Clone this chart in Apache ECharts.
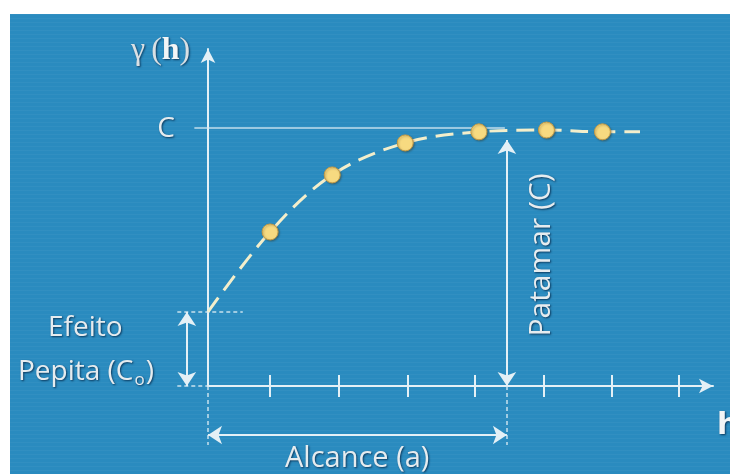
<!DOCTYPE html>
<html>
<head>
<meta charset="utf-8">
<script src="https://cdn.jsdelivr.net/npm/echarts@6/dist/echarts.min.js"></script>
<style>
html,body{margin:0;padding:0;background:#ffffff;}
#wrap{position:relative;width:730px;height:474px;overflow:hidden;background:#ffffff;}
#bg{position:absolute;left:10px;top:14px;width:720px;height:460px;background:#2a8bbf;
  background-image:repeating-linear-gradient(to bottom, rgba(255,255,255,0.035) 0px, rgba(255,255,255,0.035) 1px, rgba(0,0,0,0) 1px, rgba(0,0,0,0) 4px);}
#chart{position:absolute;left:0;top:0;width:730px;height:474px;}
</style>
</head>
<body>
<div id="wrap"><div id="bg"></div><div id="chart"></div></div>
<script>
// ---- data (x: lag h, y: semivariance gamma(h), sill C = 1) ----
const lagH      = [0.91, 1.82, 2.89, 3.97, 4.96, 5.78];
const gammaH    = [0.597, 0.818, 0.942, 0.985, 0.992, 0.985];
const curveH    = [0, 0.91, 1.82, 2.89, 3.97, 4.96, 5.78, 6.33];
const curveG    = [0.287, 0.597, 0.818, 0.942, 0.985, 0.992, 0.985, 0.985];
const nugget    = 0.287;   // C0
const sill      = 1.0;     // C
const rangeA    = 4.38;    // a
const xTicks    = [0.91, 1.92, 2.92, 3.91, 4.92, 5.92, 6.9];
const xMax      = 7.4;
const yMax      = 1.306;
// guide extents (in data units)
const leftGuide   = -0.45;
const cLineStart  = -0.2;
const pepitaX     = -0.31;
const nuggetGuideEnd = 0.51;
const belowAxis   = -0.229;
const alcanceY    = -0.19;
const patamarTop  = 0.953;

const txt = '#e6ecef';
const shadow = { textShadowColor: 'rgba(0,30,60,0.75)', textShadowBlur: 2, textShadowOffsetX: 1, textShadowOffsetY: 1 };
const guideColor = '#e4f0f6';
const arrowOff = [[0, '50%'], [0, '50%']];

const chart = echarts.init(document.getElementById('chart'), null, { renderer: 'canvas' });

const option = {
  backgroundColor: 'transparent',
  animation: false,
  grid: { left: 208, right: 17, top: 49, bottom: 88, outerBoundsMode: 'none', containLabel: false },
  xAxis: [
    {
      type: 'value', min: 0, max: xMax, position: 'bottom',
      axisLine: { show: true, onZero: true, symbol: ['none', 'arrow'], symbolSize: [11, 14],
                  lineStyle: { color: guideColor, width: 2 } },
      axisTick: { show: true, inside: false, length: 11, customValues: xTicks,
                  lineStyle: { color: guideColor, width: 2 } },
      axisLabel: { show: false },
      splitLine: { show: false }
    },
    {
      type: 'value', min: 0, max: xMax, position: 'bottom',
      axisLine: { show: false },
      axisTick: { show: true, inside: true, length: 11, customValues: xTicks,
                  lineStyle: { color: guideColor, width: 2 } },
      axisLabel: { show: false },
      splitLine: { show: false }
    }
  ],
  yAxis: {
    type: 'value', min: 0, max: yMax,
    axisLine: { show: true, symbol: ['none', 'arrow'], symbolSize: [11, 14],
                lineStyle: { color: guideColor, width: 2 } },
    axisTick: { show: false },
    axisLabel: { show: false },
    splitLine: { show: false }
  },
  series: [
    // sill line C
    {
      type: 'lines', coordinateSystem: 'cartesian2d', clip: false, z: 1,
      symbol: 'none',
      lineStyle: { color: '#d3e7f2', width: 1.5, opacity: 0.9 },
      data: [{ coords: [[cLineStart, sill], [rangeA - 0.03, sill]] }]
    },
    // dashed guides
    {
      type: 'lines', coordinateSystem: 'cartesian2d', clip: false, z: 1,
      symbol: 'none',
      lineStyle: { color: '#d8eaf3', width: 1.5, type: [4, 3], opacity: 0.9 },
      data: [
        { coords: [[leftGuide, nugget], [nuggetGuideEnd, nugget]] },
        { coords: [[leftGuide, 0], [0, 0]] },
        { coords: [[0, 0], [0, belowAxis]] },
        { coords: [[rangeA, 0], [rangeA, belowAxis]] }
      ]
    },
    // double arrows
    {
      type: 'lines', coordinateSystem: 'cartesian2d', clip: false, z: 2,
      symbol: ['arrow', 'arrow'], symbolSize: 14, symbolOffset: arrowOff,
      lineStyle: { color: guideColor, width: 2, opacity: 1 },
      data: [
        { coords: [[rangeA, 0], [rangeA, patamarTop]] },
        { coords: [[0, alcanceY], [rangeA, alcanceY]] },
        { coords: [[pepitaX, 0], [pepitaX, nugget]] }
      ]
    },
    // model curve (dashed)
    {
      type: 'line', clip: false, z: 3,
      smooth: 0.35,
      showSymbol: false, symbol: 'none',
      lineStyle: { color: '#f3eecb', width: 3, type: [18, 9] },
      data: curveH.map((h, i) => [h, curveG[i]])
    },
    // experimental points
    {
      type: 'scatter', clip: false, z: 4,
      symbol: 'circle', symbolSize: 16,
      itemStyle: { color: '#f7da80', opacity: 1, borderColor: '#c49a45', borderWidth: 1,
                   shadowColor: 'rgba(60,40,0,0.35)', shadowBlur: 2, shadowOffsetX: 1, shadowOffsetY: 1 },
      data: lagH.map((h, i) => [h, gammaH[i]])
    }
  ],
  graphic: [
    { type: 'text', x: 131, y: 51, silent: true,
      style: Object.assign({
        text: '{g|γ}{p|(}{b|h}{p|)}',
        fill: txt, align: 'left', verticalAlign: 'middle',
        rich: {
          g: { font: '32px "Liberation Serif", serif', fill: '#d9e0e4', padding: [0, 6, 0, 0] },
          p: { font: '32px "Liberation Serif", serif', fill: '#d9e0e4' },
          b: { font: 'bold 32px "Liberation Serif", serif', fill: '#f2f5f6' }
        }
      }, shadow) },
    { type: 'text', x: 166, y: 129, silent: true,
      style: Object.assign({ text: 'C', font: '28px "Open Sans", sans-serif', fill: txt, align: 'center', verticalAlign: 'middle' }, shadow) },
    { type: 'text', x: 48, y: 328, silent: true,
      style: Object.assign({ text: 'Efeito', font: '28px "Open Sans", sans-serif', fill: txt, align: 'left', verticalAlign: 'middle' }, shadow) },
    { type: 'text', x: 18, y: 372, silent: true,
      style: Object.assign({
        text: '{n|Pepita (C}{s|o}{n|)}', fill: txt, align: 'left', verticalAlign: 'middle',
        rich: {
          n: { font: '28px "Open Sans", sans-serif', fill: txt },
          s: { font: '17px "Open Sans", sans-serif', fill: txt, padding: [16, 1, 0, 1] }
        }
      }, shadow) },
    { type: 'text', x: 285, y: 459, silent: true,
      style: Object.assign({ text: 'Alcance (a)', font: '29px "Open Sans", sans-serif', fill: txt, align: 'left', verticalAlign: 'middle' }, shadow) },
    { type: 'text', x: 541, y: 255, rotation: Math.PI / 2, silent: true,
      style: Object.assign({ text: 'Patamar (C)', font: '30px "Open Sans", sans-serif', fill: txt, align: 'center', verticalAlign: 'middle' }, shadow) },
    { type: 'text', x: 717, y: 426, silent: true,
      style: Object.assign({ text: 'h', font: 'bold 30px "DejaVu Sans", sans-serif', fill: '#f2f5f6', align: 'left', verticalAlign: 'middle' }, shadow) }
  ]
};

chart.setOption(option);
</script>
</body>
</html>
